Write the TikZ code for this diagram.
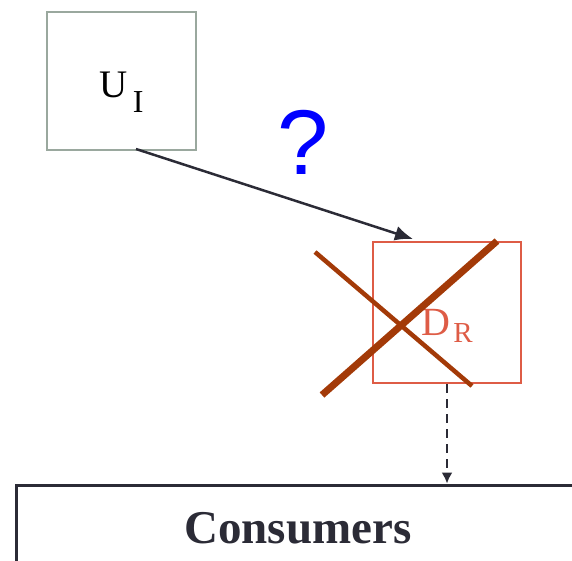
\documentclass[tikz,border=0pt]{standalone}
\usepackage{fontspec}
\setmainfont{Liberation Serif}
\newfontfamily\qfont{Liberation Sans}
\usetikzlibrary{arrows.meta}

\definecolor{boxgray}{RGB}{154,168,158}
\definecolor{coral}{RGB}{222,92,70}
\definecolor{rust}{RGB}{163,58,8}
\definecolor{ink}{RGB}{43,43,54}

\tikzset{
  box/.style={draw,rectangle,inner sep=0pt,align=center},
}

\begin{document}
\begin{tikzpicture}[x=1pt,y=-1pt,>={Latex[length=18pt,width=15pt]}]
  \useasboundingbox (0,0) rectangle (572,560);
  \clip (0,0) rectangle (572,560);
  \node[box,draw=boxgray,line width=2pt,minimum width=149pt,minimum height=138pt,
        text height=32pt,text depth=0pt,font=\fontsize{39}{40}\selectfont] (ui) at (121.5,81)
        {U\kern5pt\smash{\raisebox{-15pt}{\fontsize{32}{32}\selectfont I}}};
  \node[box,draw=coral,text=coral,line width=2pt,minimum width=148pt,minimum height=141pt,
        text height=45pt,text depth=0pt,font=\fontsize{40}{40}\selectfont] (dr) at (447,312.5)
        {D\kern3pt\smash{\raisebox{-7pt}{\fontsize{29}{29}\selectfont R}}};
  \node[box,draw=ink,text=ink,line width=3pt,minimum width=564pt,minimum height=87pt,
        font=\fontsize{47}{50}\selectfont\bfseries] (cons) at (298,528.5) {Consumers};
  \node[anchor=base,text=blue,inner sep=0pt,font=\qfont\fontsize{92}{96}\selectfont] (q) at (303,174) {?};
  % crossed out
  \draw[rust,line width=4.5pt] (315,252) -- (472,386);
  \draw[rust,line width=7pt] (322,395) -- (497,241);
  \draw[->,ink,line width=2.5pt] ([shift={(14.5,-2)}]ui.south) -- ([shift={(-34,-2)}]dr.north);
  \draw[-{Latex[length=11pt,width=11pt]},ink,line width=2pt,dash pattern=on 9pt off 6pt]
    (dr.south) -- (dr.south |- cons.north);
\end{tikzpicture}
\end{document}
